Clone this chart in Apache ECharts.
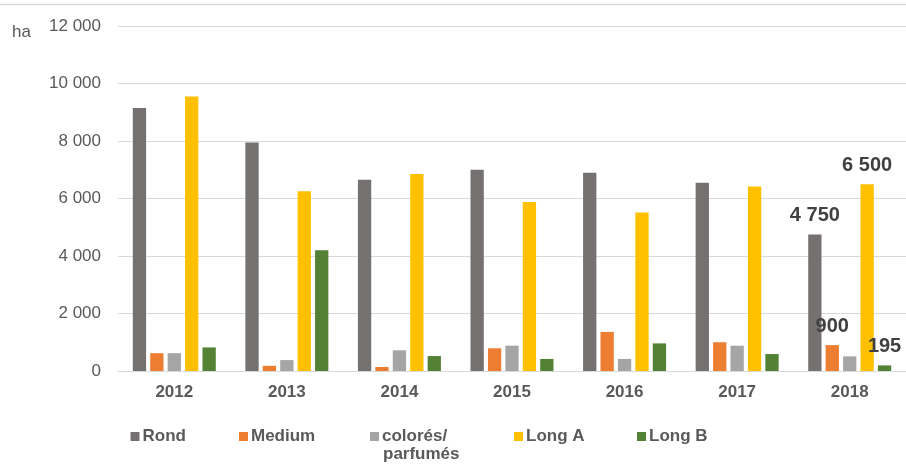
<!DOCTYPE html>
<html>
<head>
<meta charset="utf-8">
<script src="https://cdn.jsdelivr.net/npm/echarts@6/dist/echarts.min.js"></script>
<style>
html,body{margin:0;padding:0;background:#fff;}
#c{width:906px;height:464px;}
</style>
</head>
<body>
<div id="c"></div>
<script>
const categories = ['2012','2013','2014','2015','2016','2017','2018'];
const rond     = [9150, 7950, 6650, 7000, 6900, 6550, 4750];
const medium   = [620, 180, 140, 790, 1360, 1000, 900];
const colores  = [620, 380, 720, 880, 420, 880, 510];
const longA    = [9550, 6250, 6850, 5880, 5510, 6420, 6500];
const longB    = [820, 4200, 520, 420, 960, 590, 195];
const yTicks   = [0, 2000, 4000, 6000, 8000, 10000, 12000];
const unitLabel = 'ha';
const seriesNames = ['Rond', 'Medium', 'colorés/parfumés', 'Long A', 'Long B'];
const labelledLast = [true, true, false, true, true];

const colors = ['#767171', '#ED7D31', '#A5A5A5', '#FFC000', '#548235'];
const fmt = v => String(v).replace(/\B(?=(\d{3})+(?!\d))/g, ' ');
const font = 'Liberation Sans, Arial, sans-serif';

const values = [rond, medium, colores, longA, longB];
const series = values.map((arr, si) => ({
  name: seriesNames[si],
  type: 'bar',
  barWidth: 13.3,
  barGap: '31%',
  itemStyle: { color: colors[si] },
  data: arr.map((v, i) => {
    if (labelledLast[si] && i === arr.length - 1) {
      return {
        value: v,
        label: {
          show: true, position: 'top', distance: 9,
          formatter: p => fmt(p.value),
          fontFamily: font, fontSize: 20, fontWeight: 'bold', color: '#404040'
        }
      };
    }
    return v;
  })
}));

const legendLefts = [130.5, 239, 370, 514, 637];
const legends = seriesNames.map((n, i) => ({
  data: [n],
  left: legendLefts[i],
  top: 428,
  padding: 0,
  orient: 'horizontal',
  itemWidth: 9,
  itemHeight: 9,
  icon: 'rect',
  selectedMode: false,
  formatter: name => name === 'colorés/parfumés' ? 'colorés/' : name,
  textStyle: { fontFamily: font, fontSize: 17, fontWeight: 'bold', color: '#595959', padding: [0, 0, 0, -2] }
}));

const chart = echarts.init(document.getElementById('c'), null, { renderer: 'canvas' });
chart.setOption({
  animation: false,
  backgroundColor: '#fff',
  grid: { left: 118, top: 26, width: 791, height: 345, containLabel: false },
  legend: legends,
  xAxis: {
    type: 'category',
    data: categories,
    axisTick: { show: false },
    axisLine: { lineStyle: { color: '#d9d9d9', width: 1 } },
    axisLabel: { fontFamily: font, fontSize: 17, fontWeight: 'bold', color: '#595959', margin: 13 }
  },
  yAxis: {
    type: 'value',
    min: yTicks[0],
    max: yTicks[yTicks.length - 1],
    interval: yTicks[1] - yTicks[0],
    axisLine: { show: false },
    axisTick: { show: false },
    splitLine: { lineStyle: { color: '#d9d9d9', width: 1 } },
    axisLabel: { fontFamily: font, fontSize: 17, color: '#595959', margin: 17, formatter: v => fmt(v) }
  },
  graphic: [
    { type: 'line', shape: { x1: 0, y1: 4.5, x2: 906, y2: 4.5 }, style: { stroke: '#d9d9d9', lineWidth: 1.5 }, silent: true },
    { type: 'text', left: 12, top: 24, style: { text: unitLabel, font: '17px ' + font, fill: '#595959' } },
    { type: 'text', left: 383, top: 446, style: { text: 'parfumés', font: 'bold 17px ' + font, fill: '#595959' } }
  ],
  series: series
});
</script>
</body>
</html>
